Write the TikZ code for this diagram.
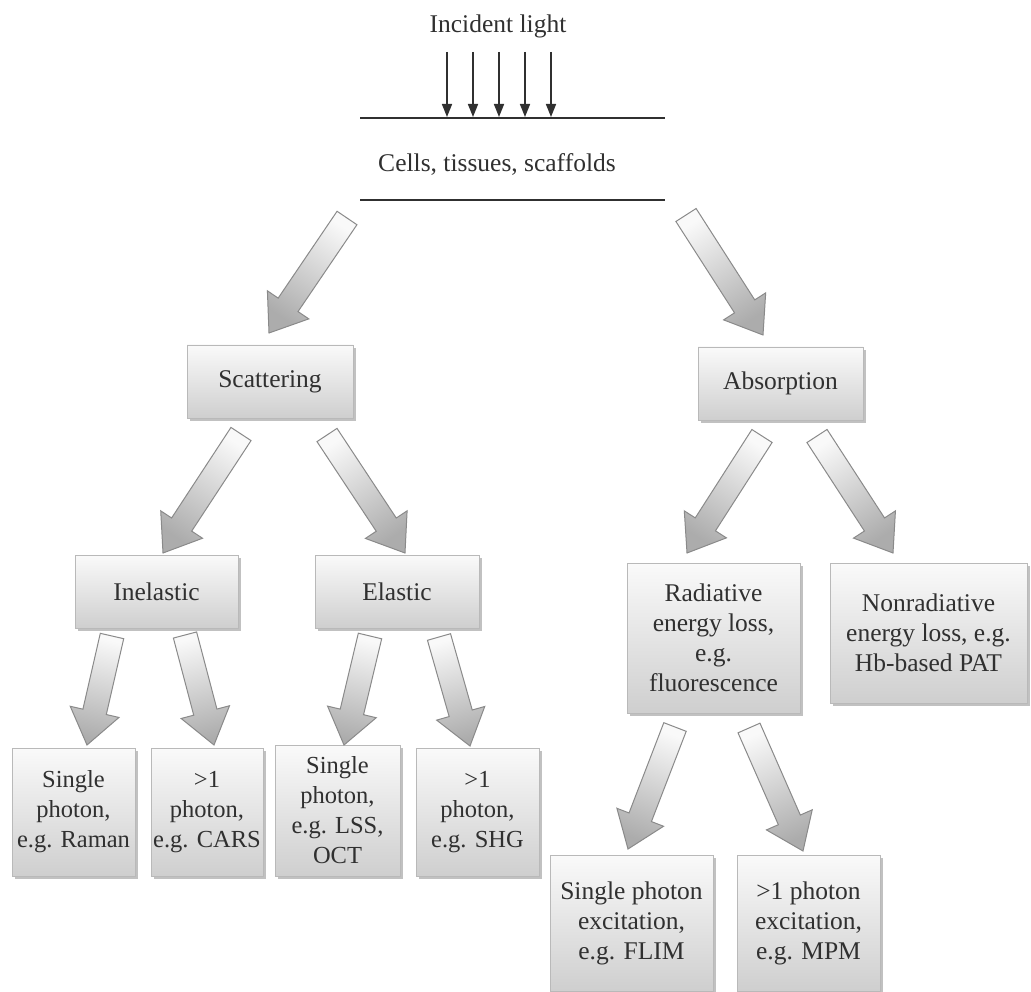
\documentclass[tikz,border=0pt]{standalone}
\usepackage{fontspec}
\setmainfont{Liberation Serif}
\usetikzlibrary{arrows.meta,shadows,calc}
\definecolor{txt}{HTML}{303030}
\definecolor{aline}{HTML}{8A8A8A}
\tikzset{
  box/.style={draw=gray!55, line width=0.7pt, top color=gray!4, bottom color=gray!38,
    inner sep=0pt, align=center, text=txt, font=\fontsize{25.5}{30}\selectfont,
    drop shadow={shadow xshift=2.5pt, shadow yshift=-3pt, fill=gray!60, opacity=.8}},
  smallbox/.style={box, font=\fontsize{24.5}{30}\selectfont},
  barrowstyle/.style={draw=aline, line width=1pt, top color=gray!5, bottom color=gray!65},
  plain/.style={text=txt, font=\fontsize{25.5}{30}\selectfont, inner sep=0pt},
  ray/.style={draw=txt, line width=1.6pt, -{Triangle[width=10pt,length=13pt]}},
  surface/.style={draw=txt, line width=1.8pt}
}
\newcommand{\barrow}[2]{%
  \path (#1); \pgfgetlastxy{\ax}{\ay}%
  \path (#2); \pgfgetlastxy{\bx}{\by}%
  \pgfmathsetmacro\bang{atan2(\by-\ay,\bx-\ax)}%
  \pgfmathsetmacro\blen{veclen(\bx-\ax,\by-\ay)}%
  \pgfmathsetmacro\sang{\bang+90}%
  \begin{scope}[shift={(#1)},rotate=\bang,x=1pt,y=1pt]
    \draw[barrowstyle, shading angle=\sang]
      (0,-12) -- (\blen-34,-12) -- (\blen-34,-25) -- (\blen,0)
      -- (\blen-34,25) -- (\blen-34,12) -- (0,12) -- cycle;
  \end{scope}}
\begin{document}
\begin{tikzpicture}[x=1pt,y=-1pt]
\useasboundingbox (0,0) rectangle (1031,992);
% top part
\node[plain] (inc) at (498,26) {Incident light};
\coordinate (s1a) at (360,118); \coordinate (s1b) at (665,118);
\coordinate (s2a) at (360,200); \coordinate (s2b) at (665,200);
\draw[surface] (s1a) -- (s1b);
\draw[surface] (s2a) -- (s2b);
\node[plain] (cells) at (497,164) {Cells, tissues, scaffolds};
\foreach \i/\x in {1/447,2/473,3/499,4/525,5/551}{
  \coordinate (r\i a) at (\x,52);
  \coordinate (r\i b) at (\x,117);
  \draw[ray] (r\i a) -- (r\i b);
}
% boxes
\node[box, minimum width=166pt, minimum height=73pt] (scat) at (270,381.5) {Scattering};
\node[box, minimum width=165pt, minimum height=73pt] (abs) at (780.5,383.5) {Absorption};
\node[box, minimum width=163pt, minimum height=73pt] (inel) at (156.5,591.5) {Inelastic};
\node[box, minimum width=164pt, minimum height=73pt] (elas) at (397,591.5) {Elastic};
\node[box, minimum width=173pt, minimum height=150pt] (rad) at (713.5,638) {Radiative\\energy loss,\\e.g.\\fluorescence};
\node[box, minimum width=197pt, minimum height=140pt] (nonrad) at (928.5,633) {Nonradiative\\energy loss, e.g.\\Hb-based PAT};
\node[smallbox, minimum width=123pt, minimum height=128pt] (raman) at (73.5,812) {Single\\photon,\\e.g. Raman};
\node[smallbox, minimum width=112pt, minimum height=128pt] (cars) at (207,812) {>1\\photon,\\e.g. CARS};
\node[smallbox, minimum width=125pt, minimum height=131pt] (lss) at (337.5,810.5) {Single\\photon,\\e.g. LSS,\\OCT};
\node[smallbox, minimum width=123pt, minimum height=128pt] (shg) at (477.5,812) {>1\\photon,\\e.g. SHG};
\node[box, minimum width=163pt, minimum height=136pt] (flim) at (631.5,923) {Single photon\\excitation,\\e.g. FLIM};
\node[box, minimum width=143pt, minimum height=136pt] (mpm) at (808.5,923) {>1 photon\\excitation,\\e.g. MPM};
% arrow end points
\coordinate (cS) at (347,218);  \coordinate (sT) at (269,333);
\coordinate (cA) at (686,215);  \coordinate (aT) at (763,335);
\coordinate (sI) at (241,434);  \coordinate (iT) at (163,553);
\coordinate (sE) at (327,435);  \coordinate (eT) at (405,553);
\coordinate (aR) at (762,436);  \coordinate (rT) at (687,553);
\coordinate (aN) at (817,436);  \coordinate (nT) at (893,553);
\coordinate (iR) at (112,636);  \coordinate (ramT) at (87,745);
\coordinate (iC) at (185,635);  \coordinate (carT) at (214,745);
\coordinate (eL) at (370,636);  \coordinate (lssT) at (344,745);
\coordinate (eS) at (439,637);  \coordinate (shgT) at (470,746);
\coordinate (rF) at (675,727);  \coordinate (flT) at (628,849);
\coordinate (rM) at (749,728);  \coordinate (mpT) at (803,851);
\barrow{cS}{sT}
\barrow{cA}{aT}
\barrow{sI}{iT}
\barrow{sE}{eT}
\barrow{aR}{rT}
\barrow{aN}{nT}
\barrow{iR}{ramT}
\barrow{iC}{carT}
\barrow{eL}{lssT}
\barrow{eS}{shgT}
\barrow{rF}{flT}
\barrow{rM}{mpT}
\end{tikzpicture}
\end{document}
